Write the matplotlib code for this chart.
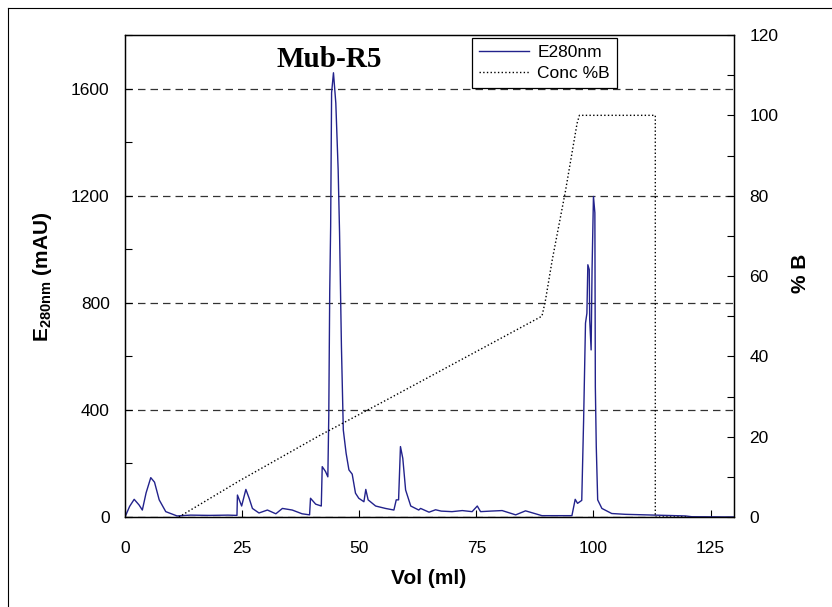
import matplotlib
matplotlib.use("Agg")
import matplotlib.pyplot as plt
from matplotlib.lines import Line2D
from matplotlib.ticker import MultipleLocator

plt.rcParams['font.family'] = ['Liberation Sans', 'DejaVu Sans']
plt.rcParams['mathtext.fontset'] = 'custom'
plt.rcParams['mathtext.bf'] = 'Liberation Sans:bold'
plt.rcParams['mathtext.rm'] = 'Liberation Sans:bold'

# E280nm trace (ml, mAU)
vol = [0, 1.0, 1.96, 3.0, 3.7, 4.5, 5.5, 6.3, 7.3, 8.7, 11.1, 14, 18, 22, 23.9,
       24.0, 24.9, 25.8, 26.5, 27.2, 28.6, 30.4, 32.2, 33.6, 35.7, 37.8, 39.4,
       39.6, 40.7, 41.9, 42.1, 42.8, 43.3, 43.5, 43.7, 43.9, 44.1, 44.5, 45.0,
       45.5, 45.8, 46.2, 46.6, 47.2, 47.8, 48.5, 49.2, 49.9, 51.0, 51.4, 51.9,
       53.5, 55.6, 57.4, 57.9, 58.4, 58.8, 59.3, 59.9, 61.0, 62.7, 63.1, 64.9,
       66.3, 67.5, 69.8, 72, 74.1, 75.2, 75.9, 78, 80.5, 83.4, 85.5, 89.0, 95.4,
       96.1, 96.6, 97.5, 97.9, 98.3, 98.6, 98.8, 99.1, 99.2, 99.5, 99.7, 100.0,
       100.3, 100.4, 100.6, 100.9, 101.8, 103.9, 106.8, 113.2, 119.6, 121, 130]
e280 = [0, 40, 66, 45, 26, 90, 147, 130, 64, 20, 4, 7, 6, 7, 6,
        82, 41, 103, 70, 32, 15, 26, 12, 32, 26, 12, 8,
        70, 48, 41, 188, 170, 150, 380, 840, 1085, 1584, 1659, 1546,
        1297, 1061, 637, 325, 238, 176, 160, 89, 70, 57, 103, 64,
        41, 32, 26, 64, 64, 263, 219, 101, 41, 26, 32, 18,
        27, 22, 20, 24, 20, 41, 20, 22, 24, 8, 23, 5, 5,
        66, 51, 62, 363, 724, 761, 942, 924, 736, 624, 923, 1197,
        1136, 487, 263, 64, 32, 13, 10, 7, 4, 1, 0]

# gradient, Conc %B
vol_b = [11.5, 24.4, 41.4, 55.6, 89.0, 89.7, 91.2, 94.0, 96.5, 97.0, 113.2, 113.2, 120]
conc_b = [0, 9, 20.2, 29, 50, 53.6, 64, 81, 98, 100, 100, 0, 0]

fig = plt.figure(figsize=(8.32, 6.07), dpi=100)
ax = fig.add_axes([125 / 832, 90 / 607, 609 / 832, 482 / 607])
ax2 = ax.twinx()

l1, = ax.plot(vol, e280, color='#22228c', lw=1.0, label='E280nm')
l2, = ax2.plot(vol_b, conc_b, color='black', lw=1.0, linestyle=':', label='Conc %B')

ax.set_xlim(0, 130)
ax.set_ylim(0, 1800)
ax2.set_ylim(0, 120)
ax.xaxis.set_major_locator(MultipleLocator(25))
ax.yaxis.set_major_locator(MultipleLocator(400))
ax.yaxis.set_minor_locator(MultipleLocator(200))
ax2.yaxis.set_major_locator(MultipleLocator(20))
ax2.yaxis.set_minor_locator(MultipleLocator(10))
ax.set_yticks([0, 400, 800, 1200, 1600])

ax.grid(axis='y', which='major', linestyle=(0, (6, 4)), color='#333333', lw=0.9)

ax.tick_params(axis='x', direction='in', length=5, width=0.8, pad=17, labelsize=12.5)
ax.tick_params(axis='y', which='both', direction='in', length=5, width=0.8, pad=11, labelsize=12.5)
ax2.tick_params(axis='y', which='both', direction='in', length=5, width=0.8, pad=11, labelsize=12.5)
ax.tick_params(axis='x', top=False)

for a in (ax, ax2):
    for s in a.spines.values():
        s.set_linewidth(0.9)
        s.set_color('black')

ax.text(0.335, 0.933, 'Mub-R5', transform=ax.transAxes, ha='center', va='baseline',
        fontsize=21, fontweight='bold', family='Liberation Serif')

leg = ax2.legend([l1, l2], ['E280nm', 'Conc %B'], loc='upper left',
                 bbox_to_anchor=(0.570, 0.994), borderaxespad=0, fontsize=12.5,
                 handlelength=2.9, handletextpad=0.45, labelspacing=0.35,
                 borderpad=0.4, fancybox=False, framealpha=1, edgecolor='black')
leg.get_frame().set_linewidth(0.9)

fig.text(429 / 832, 1 - 579 / 607, 'Vol (ml)', ha='center', va='center',
         fontsize=15, fontweight='bold')
fig.text(42 / 832, 1 - 277 / 607, r'E$_{\mathbf{280nm}}$ (mAU)', ha='center', va='center',
         rotation=90, fontsize=15, fontweight='bold')
fig.text(800 / 832, 1 - 273 / 607, '% B', ha='center', va='center',
         rotation=90, fontsize=15, fontweight='bold')

# frame of the original figure, only left and top edges show
fig.add_artist(Line2D([8 / 832, 8 / 832], [0, 1 - 8 / 607], transform=fig.transFigure,
                      color='black', lw=0.8))
fig.add_artist(Line2D([8 / 832, 1], [1 - 8 / 607, 1 - 8 / 607], transform=fig.transFigure,
                      color='black', lw=0.8))

fig.savefig('out.png', dpi=100)
